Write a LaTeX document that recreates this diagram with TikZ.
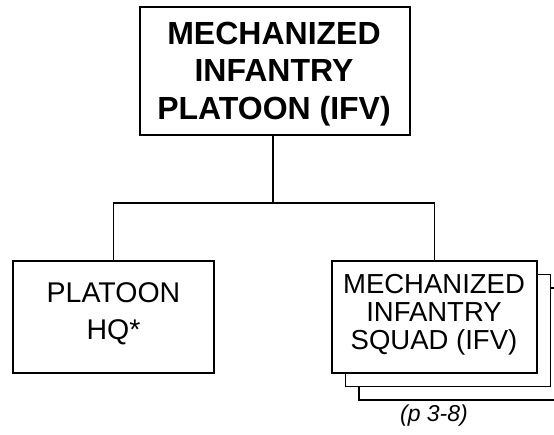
\documentclass[tikz,border=0pt]{standalone}
\usepackage{fontspec}
\setmainfont{Liberation Sans}
\begin{document}
\begin{tikzpicture}[x=1pt,y=1pt,
  box/.style={draw=black, line width=1.7pt, fill=white, inner sep=0pt, align=center},
  conn/.style={draw=black, line width=1.7pt},
  toptext/.style={font=\fontsize{32}{37.5}\selectfont\bfseries},
  hqtext/.style={font=\fontsize{28.5}{37}\selectfont},
  sqtext/.style={font=\fontsize{27.5}{28}\selectfont},
  reftext/.style={font=\fontsize{23}{26}\selectfont\itshape}]
\useasboundingbox (0,0) rectangle (554,-435);
\begin{scope}
\clip (0,0) rectangle (554,-435);
% top box
\node[box, minimum width=270, minimum height=128] (top) at (275,-71) {};
\node[toptext, align=center] (toptx) at (274,-74) {MECHANIZED\\INFANTRY\\PLATOON (IFV)};
% platoon HQ
\node[box, minimum width=201, minimum height=112] (hq) at (113.5,-317) {};
\node[hqtext, align=center] (hqtx) at (113.5,-314) {PLATOON\\HQ*};
% stacked squad boxes
\node[box, minimum width=205, minimum height=112] (sq3) at (461.5,-344) {};
\node[box, minimum width=205, minimum height=112] (sq2) at (448,-330.5) {};
\node[box, minimum width=205, minimum height=112] (squad) at (434.5,-317) {};
\node[sqtext, align=center] (sqtx) at (434,-315) {MECHANIZED\\INFANTRY\\SQUAD (IFV)};
% connectors
\coordinate (bus) at (273,-203);
\draw[conn] (top.south -| bus) -- (bus);
\draw[conn] (hq.north) -- (hq.north |- bus) -- (squad.north |- bus) -- (squad.north);
% reference
\node[reftext] (ref) at (434,-416) {(p 3-8)};
\end{scope}
\end{tikzpicture}
\end{document}
